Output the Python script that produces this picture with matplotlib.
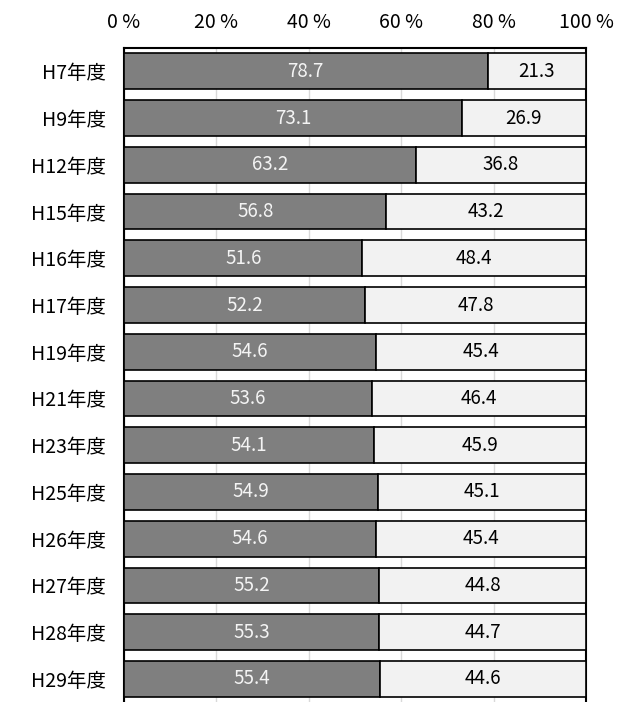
import numpy as np
import matplotlib.pyplot as plt

plt.rcParams['font.family'] = ['Noto Sans CJK JP', 'DejaVu Sans']

years = ["H7年度", "H9年度", "H12年度", "H15年度", "H16年度", "H17年度", "H19年度",
         "H21年度", "H23年度", "H25年度", "H26年度", "H27年度", "H28年度", "H29年度"]
share_a = [78.7, 73.1, 63.2, 56.8, 51.6, 52.2, 54.6, 53.6, 54.1, 54.9, 54.6, 55.2, 55.3, 55.4]
share_b = [21.3, 26.9, 36.8, 43.2, 48.4, 47.8, 45.4, 46.4, 45.9, 45.1, 45.4, 44.8, 44.7, 44.6]
xticks = [0, 20, 40, 60, 80, 100]
xticklabels = ["0 %", "20 %", "40 %", "60 %", "80 %", "100 %"]

fig = plt.figure(figsize=(6.33, 7.02), dpi=100)
# axes run a few pixels past the bottom edge, so the last row is clipped
ax = fig.add_axes([124 / 633, -4 / 702, (586 - 124) / 633, (702 - 48 + 4) / 702])

y = np.arange(len(years))
h = 0.765
ax.barh(y, share_a, height=h, color="#7f7f7f", edgecolor="black", linewidth=1.2, zorder=3)
ax.barh(y, share_b, left=share_a, height=h, color="#f2f2f2", edgecolor="black", linewidth=1.2, zorder=3)

for i in range(len(years)):
    ax.text(share_a[i] / 2, y[i], f"{share_a[i]:.1f}", ha="center", va="center",
            color="#f4f4f4", fontsize=13.5, zorder=4)
    ax.text(share_a[i] + share_b[i] / 2, y[i], f"{share_b[i]:.1f}", ha="center", va="center",
            color="black", fontsize=13.5, zorder=4)

ax.set_xlim(0, 100)
ax.set_ylim(len(years) - 0.5 + 0.08, -0.5)
ax.set_yticks(y)
ax.set_yticklabels(years, fontsize=14)
ax.set_xticks(xticks)
ax.set_xticklabels(xticklabels, fontsize=14)
ax.xaxis.tick_top()
ax.tick_params(axis="y", length=0, pad=13)
ax.tick_params(axis="x", length=0, pad=11)
ax.grid(axis="x", color="#d9d9d9", linewidth=1, zorder=0)
for side in ["top", "left", "right"]:
    ax.spines[side].set_linewidth(1.5)
    ax.spines[side].set_color("black")
ax.spines["bottom"].set_visible(False)

fig.savefig("out.png", dpi=100)
